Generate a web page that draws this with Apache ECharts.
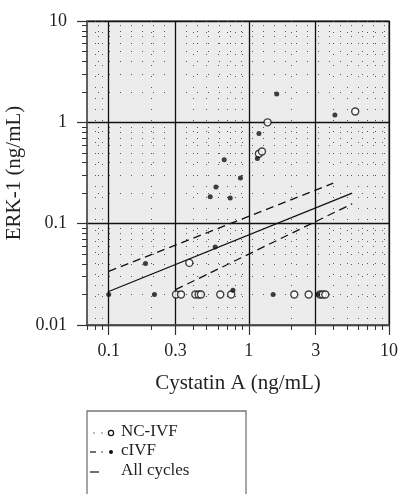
<!DOCTYPE html>
<html><head><meta charset="utf-8">
<script src="https://cdn.jsdelivr.net/npm/echarts@6/dist/echarts.min.js"></script>
<style>html,body{margin:0;padding:0;background:#fff}#c{width:399px;height:494px}</style>
</head><body><div id="c"></div>
<script>
// ---- data ----
const ncIvfX = [0.302, 0.328, 0.415, 0.438, 0.455, 0.625, 0.748, 2.11, 2.67, 3.22, 3.36, 3.51, 0.376, 1.18, 1.24, 1.36, 5.74];
const ncIvfY = [0.02, 0.02, 0.02, 0.02, 0.02, 0.02, 0.02, 0.02, 0.02, 0.02, 0.02, 0.02, 0.041, 0.49, 0.515, 1.0, 1.28];
const civfX = [0.1, 0.212, 0.77, 1.49, 3.1, 0.183, 0.575, 0.53, 0.736, 0.582, 0.871, 0.667, 1.15, 1.18, 1.58, 4.11];
const civfY = [0.02, 0.02, 0.022, 0.02, 0.02, 0.0405, 0.059, 0.184, 0.179, 0.23, 0.282, 0.427, 0.44, 0.775, 1.9, 1.18];
const allFitX = [0.1, 5.46];
const allFitY = [0.0214, 0.2];
const upperX = [0.1, 4.0];
const upperY = [0.0338, 0.251];
const lowerX = [0.3, 5.46];
const lowerY = [0.0223, 0.157];
const xMajor = [0.1, 0.3, 1, 3, 10];
const xMajorLabels = ['0.1', '0.3', '1', '3', '10'];
const xMinor = [0.07, 0.08, 0.09, 0.2, 0.4, 0.5, 0.6, 0.7, 0.8, 0.9, 2, 4, 5, 6, 7, 8, 9];
const yMajor = [0.01, 0.1, 1, 10];
const yMajorLabels = ['0.01', '0.1', '1', '10'];
const yMinor = [0.02, 0.03, 0.04, 0.05, 0.06, 0.07, 0.08, 0.09, 0.2, 0.3, 0.4, 0.5, 0.6, 0.7, 0.8, 0.9, 2, 3, 4, 5, 6, 7, 8, 9];
const xName = 'Cystatin A (ng/mL)';
const yName = 'ERK-1 (ng/mL)';
const legendLabels = ['NC-IVF', 'cIVF', 'All cycles'];
const X_MIN = 0.07, X_MAX = 10, Y_MIN = 0.01, Y_MAX = 10;

// ---- helpers ----
const lg = v => Math.round(Math.log10(v) * 1e9) / 1e9;
const zip = (a, b) => a.map((v, i) => [v, b[i]]);
const fmt = (majors, labels) => v => {
  const i = majors.findIndex(m => Math.abs(lg(m) - v) < 1e-6);
  return i >= 0 ? labels[i] : '';
};
const FONT = 'Liberation Serif';
const TXT = '#231f20';

const chart = echarts.init(document.getElementById('c'));
const dotted = { show: true, lineStyle: { color: '#555', width: 1, type: [1, 10] } };
const solid = { show: true, lineStyle: { color: '#111', width: 1.3 } };

const option = {
  animation: false,
  backgroundColor: '#fff',
  grid: { left: 87, top: 21, right: 10, bottom: 169, show: true, backgroundColor: '#ececec', borderColor: '#666', borderWidth: 1.5, outerBoundsMode: 'none' },
  xAxis: [
    { type: 'log', min: X_MIN, max: X_MAX, show: false, position: 'bottom' },
    { type: 'value', min: lg(X_MIN), max: lg(X_MAX), position: 'bottom',
      axisLine: { show: true, onZero: false, lineStyle: { color: '#555', width: 1.5 } },
      axisTick: { show: true, customValues: xMinor.map(lg), length: 5, lineStyle: { color: '#333' } },
      axisLabel: { show: false }, splitLine: dotted },
    { type: 'value', min: lg(X_MIN), max: lg(X_MAX), position: 'bottom',
      axisLine: { show: false, onZero: false },
      axisTick: { show: true, customValues: xMajor.map(lg), length: 10, lineStyle: { color: '#333', width: 1.2 } },
      axisLabel: { show: true, customValues: xMajor.map(lg), formatter: fmt(xMajor, xMajorLabels), margin: 17, fontFamily: FONT, fontSize: 18, color: TXT },
      splitLine: solid,
      name: xName, nameLocation: 'middle', nameGap: 48, nameTextStyle: { fontFamily: FONT, fontSize: 21, color: TXT } }
  ],
  yAxis: [
    { type: 'log', min: Y_MIN, max: Y_MAX, show: false, position: 'left' },
    { type: 'value', min: lg(Y_MIN), max: lg(Y_MAX), position: 'left',
      axisLine: { show: true, onZero: false, lineStyle: { color: '#555', width: 1.5 } },
      axisTick: { show: true, customValues: yMinor.map(lg), length: 5, lineStyle: { color: '#333' } },
      axisLabel: { show: false }, splitLine: dotted },
    { type: 'value', min: lg(Y_MIN), max: lg(Y_MAX), position: 'left',
      axisLine: { show: false, onZero: false },
      axisTick: { show: true, customValues: yMajor.map(lg), length: 10, lineStyle: { color: '#333', width: 1.2 } },
      axisLabel: { show: true, customValues: yMajor.map(lg), formatter: fmt(yMajor, yMajorLabels), margin: 20, fontFamily: FONT, fontSize: 18, color: TXT },
      splitLine: solid,
      name: yName, nameLocation: 'middle', nameGap: 51, nameTextStyle: { fontFamily: FONT, fontSize: 21, color: TXT } }
  ],
  series: [
    { name: 'upper', type: 'line', xAxisIndex: 0, yAxisIndex: 0, data: zip(upperX, upperY), symbol: 'none', silent: true,
      lineStyle: { color: '#111', width: 1.3, type: [8, 5] }, z: 3 },
    { name: 'lower', type: 'line', xAxisIndex: 0, yAxisIndex: 0, data: zip(lowerX, lowerY), symbol: 'none', silent: true,
      lineStyle: { color: '#111', width: 1.3, type: [8, 5] }, z: 3 },
    { name: legendLabels[2], type: 'line', xAxisIndex: 0, yAxisIndex: 0, data: zip(allFitX, allFitY), symbol: 'none', silent: true,
      lineStyle: { color: '#111', width: 1.3 }, z: 3 },
    { name: legendLabels[0], type: 'scatter', xAxisIndex: 0, yAxisIndex: 0, data: zip(ncIvfX, ncIvfY), symbol: 'circle', symbolSize: 7,
      itemStyle: { color: '#fff', borderColor: '#111', borderWidth: 1.4 }, z: 4 },
    { name: legendLabels[1], type: 'scatter', xAxisIndex: 0, yAxisIndex: 0, data: zip(civfX, civfY), symbol: 'circle', symbolSize: 5,
      itemStyle: { color: '#111' }, z: 5 }
  ],
  graphic: [
    { type: 'rect', shape: { x: 87, y: 411, width: 159, height: 100 }, style: { fill: '#fff', stroke: '#777', lineWidth: 1.3 } },
    // row 1: NC-IVF
    { type: 'circle', shape: { cx: 94, cy: 433, r: 0.8 }, style: { fill: '#666' } },
    { type: 'circle', shape: { cx: 102, cy: 433, r: 0.8 }, style: { fill: '#666' } },
    { type: 'circle', shape: { cx: 111, cy: 433, r: 2.6 }, style: { fill: '#fff', stroke: '#111', lineWidth: 1.2 } },
    { type: 'text', left: 121, top: 423, style: { text: legendLabels[0], font: '17px "Liberation Serif"', fill: TXT } },
    // row 2: cIVF
    { type: 'line', shape: { x1: 90, y1: 452, x2: 96, y2: 452 }, style: { stroke: '#111', lineWidth: 1.2 } },
    { type: 'circle', shape: { cx: 102, cy: 452, r: 0.8 }, style: { fill: '#333' } },
    { type: 'circle', shape: { cx: 111, cy: 452, r: 2 }, style: { fill: '#111' } },
    { type: 'text', left: 121, top: 442, style: { text: legendLabels[1], font: '17px "Liberation Serif"', fill: TXT } },
    // row 3: All cycles
    { type: 'line', shape: { x1: 90, y1: 472, x2: 99, y2: 472 }, style: { stroke: '#111', lineWidth: 1.2 } },
    { type: 'text', left: 121, top: 462, style: { text: legendLabels[2], font: '17px "Liberation Serif"', fill: TXT } }
  ]
};
chart.setOption(option);
</script>
</body></html>
